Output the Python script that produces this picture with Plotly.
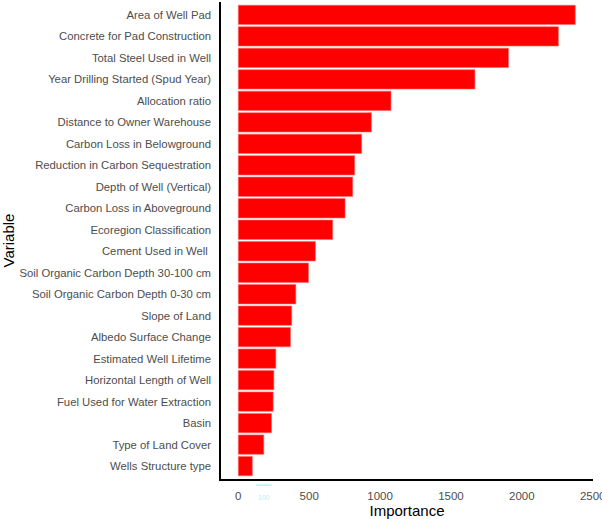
import plotly.graph_objects as go

# variable importance (largest first)
variables = [
    "Area of Well Pad",
    "Concrete for Pad Construction",
    "Total Steel Used in Well",
    "Year Drilling Started (Spud Year)",
    "Allocation ratio",
    "Distance to Owner Warehouse",
    "Carbon Loss in Belowground",
    "Reduction in Carbon Sequestration",
    "Depth of Well (Vertical)",
    "Carbon Loss in Aboveground",
    "Ecoregion Classification",
    "Cement Used in Well ",
    "Soil Organic Carbon Depth 30-100 cm",
    "Soil Organic Carbon Depth 0-30 cm",
    "Slope of Land",
    "Albedo Surface Change",
    "Estimated Well Lifetime",
    "Horizontal Length of Well",
    "Fuel Used for Water Extraction",
    "Basin",
    "Type of Land Cover",
    "Wells Structure type",
]
importance = [2377, 2258, 1906, 1669, 1077, 939, 870, 821, 807, 753, 666,
              544, 495, 406, 377, 368, 265, 251, 246, 234, 180, 99]

x_ticks = [0, 500, 1000, 1500, 2000, 2500]

FONT = "Liberation Sans, Arial"

fig = go.Figure()

fig.add_trace(go.Bar(
    y=variables,
    x=importance,
    orientation="h",
    width=0.9,
    marker=dict(color="#ff0000", line=dict(color="#ff6a6a", width=0.6)),
    showlegend=False,
))

fig.update_yaxes(
    categoryorder="array",
    categoryarray=variables[::-1],
    range=[-0.6, len(variables) - 0.4],
    showline=True, linecolor="black", linewidth=1.5,
    ticks="", showgrid=False, zeroline=False,
    automargin=False,
    ticklabelstandoff=6,
    tickfont=dict(family=FONT, size=11.3, color="#4d4d4d"),
    title=dict(text="Variable", standoff=4,
               font=dict(family=FONT, size=15, color="black")),
)

fig.update_xaxes(
    range=[-122, 2502],
    tickvals=x_ticks,
    showline=True, linecolor="black", linewidth=1.5,
    ticks="", showgrid=False, zeroline=False,
    automargin=False,
    ticklabeloverflow="allow",
    ticklabelstandoff=5,
    tickfont=dict(family=FONT, size=11.5, color="#4d4d4d"),
    title=dict(text="Importance", standoff=3,
               font=dict(family=FONT, size=15, color="black")),
)

# faint cyan artifact under the axis near the origin
fig.add_shape(type="line", xref="x", yref="paper", x0=125, x1=235, y0=-0.013, y1=-0.013,
              line=dict(color="#b8eef5", width=1.5))
fig.add_annotation(x=180, y=-0.028, xref="x", yref="paper", text="100", showarrow=False,
                   yanchor="top", font=dict(family=FONT, size=7, color="#b8eef5"))

fig.update_layout(
    width=602, height=519,
    margin=dict(l=221, r=9, t=2, b=40),
    plot_bgcolor="white",
    paper_bgcolor="white",
    bargap=0.1,
)

# drop the browser's default 8px body margin so the figure sits at the corner
fig.write_html("out.html", config={"displayModeBar": False},
               post_script="document.body.style.margin='0';")
